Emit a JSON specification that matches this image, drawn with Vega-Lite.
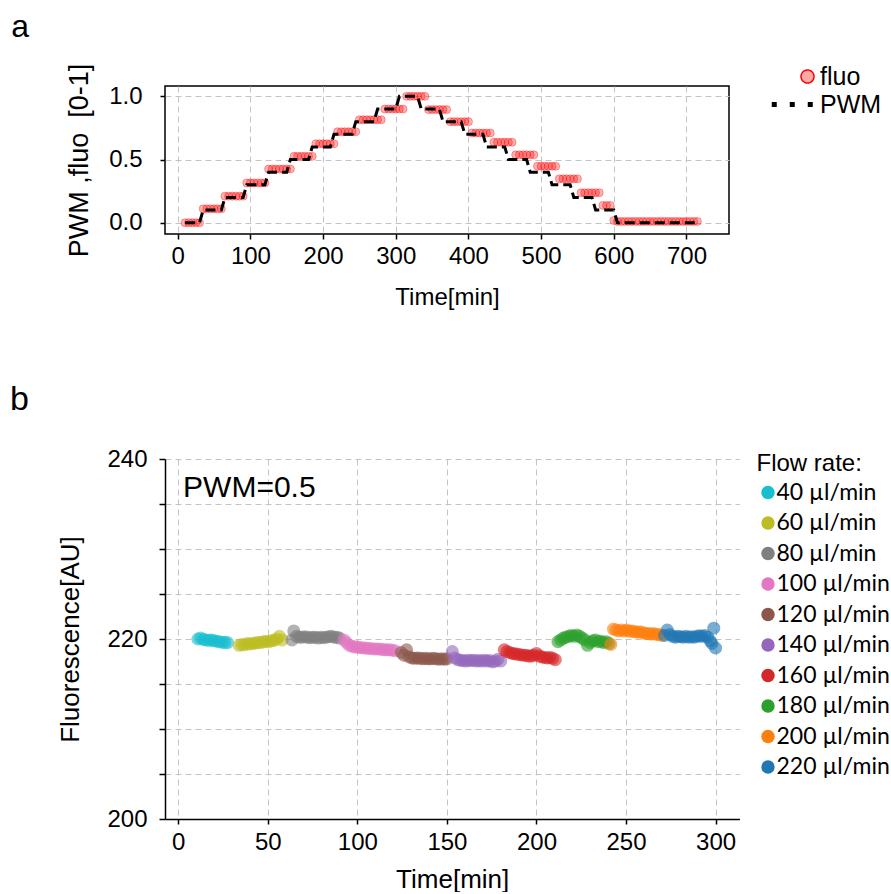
{
  "$schema": "https://vega.github.io/schema/vega-lite/v6.json",
  "background": "white",
  "padding": {"left": 10, "top": 9, "right": 0, "bottom": 0},
  "spacing": 73,
  "resolve": {"scale": {"color": "independent", "shape": "independent", "fill": "independent", "stroke": "independent", "strokeDash": "independent", "strokeWidth": "independent"}, "legend": {"color": "independent", "shape": "independent", "fill": "independent", "stroke": "independent", "strokeDash": "independent", "strokeWidth": "independent"}},
  "config": {
    "view": {"stroke": null},
    "font": "Liberation Sans",
    "axis": {
      "labelFont": "Liberation Sans", "titleFont": "Liberation Sans", "titleFontWeight": "normal",
      "labelColor": "black", "titleColor": "black", "tickColor": "black", "domainColor": "black",
      "tickSize": 5, "tickWidth": 1.5, "domainWidth": 1.5, "labelPadding": 5,
      "gridColor": "#c4c4c4", "gridDash": [6, 4], "gridWidth": 1,
      "labelFlush": false, "labelOverlap": false
    },
    "title": {"font": "Liberation Sans", "fontWeight": "normal", "anchor": "start", "frame": "group", "color": "black"}
  },
  "vconcat": [
    {
      "width": 564, "height": 148,
      "view": {"stroke": "black", "strokeWidth": 1.5},
      "title": {"text": "a", "fontSize": 32, "dx": -153.7, "offset": -5.5, "baseline": "alphabetic"},
      "data": {"values": [
        {"t":10,"f":0,"p":0},{"t":15,"f":0,"p":0},{"t":20,"f":0,"p":0},{"t":25,"f":0,"p":0},{"t":30,"f":0,"p":0},
        {"t":35,"f":0.11,"p":0.1},{"t":40,"f":0.11,"p":0.1},{"t":45,"f":0.11,"p":0.1},{"t":50,"f":0.11,"p":0.1},{"t":55,"f":0.11,"p":0.1},{"t":60,"f":0.11,"p":0.1},
        {"t":65,"f":0.21,"p":0.2},{"t":70,"f":0.21,"p":0.2},{"t":75,"f":0.21,"p":0.2},{"t":80,"f":0.21,"p":0.2},{"t":85,"f":0.21,"p":0.2},{"t":90,"f":0.21,"p":0.2},
        {"t":95,"f":0.315,"p":0.3},{"t":100,"f":0.315,"p":0.3},{"t":105,"f":0.315,"p":0.3},{"t":110,"f":0.315,"p":0.3},{"t":115,"f":0.315,"p":0.3},{"t":120,"f":0.315,"p":0.3},
        {"t":125,"f":0.425,"p":0.4},{"t":130,"f":0.425,"p":0.4},{"t":135,"f":0.425,"p":0.4},{"t":140,"f":0.425,"p":0.4},{"t":145,"f":0.425,"p":0.4},{"t":150,"f":0.425,"p":0.4},
        {"t":155,"f":0.425,"p":0.5},{"t":160,"f":0.525,"p":0.5},{"t":165,"f":0.525,"p":0.5},{"t":170,"f":0.525,"p":0.5},{"t":175,"f":0.525,"p":0.5},{"t":180,"f":0.525,"p":0.5},
        {"t":185,"f":0.525,"p":0.6},{"t":190,"f":0.625,"p":0.6},{"t":195,"f":0.625,"p":0.6},{"t":200,"f":0.625,"p":0.6},{"t":205,"f":0.625,"p":0.6},{"t":210,"f":0.625,"p":0.6},
        {"t":215,"f":0.625,"p":0.7},{"t":220,"f":0.72,"p":0.7},{"t":225,"f":0.72,"p":0.7},{"t":230,"f":0.72,"p":0.7},{"t":235,"f":0.72,"p":0.7},{"t":240,"f":0.72,"p":0.7},
        {"t":245,"f":0.72,"p":0.8},{"t":250,"f":0.815,"p":0.8},{"t":255,"f":0.815,"p":0.8},{"t":260,"f":0.815,"p":0.8},{"t":265,"f":0.815,"p":0.8},{"t":270,"f":0.815,"p":0.8},
        {"t":275,"f":0.815,"p":0.9},{"t":280,"f":0.815,"p":0.9},{"t":285,"f":0.9,"p":0.9},{"t":290,"f":0.9,"p":0.9},{"t":295,"f":0.9,"p":0.9},{"t":300,"f":0.9,"p":0.9},
        {"t":305,"f":0.9,"p":1.0},{"t":310,"f":0.9,"p":1.0},{"t":315,"f":1.0,"p":1.0},{"t":320,"f":1.0,"p":1.0},{"t":325,"f":1.0,"p":1.0},{"t":330,"f":1.0,"p":1.0},
        {"t":335,"f":1.0,"p":0.9},{"t":340,"f":1.0,"p":0.9},{"t":345,"f":0.895,"p":0.9},{"t":350,"f":0.895,"p":0.9},{"t":355,"f":0.895,"p":0.9},{"t":360,"f":0.895,"p":0.9},
        {"t":365,"f":0.895,"p":0.8},{"t":370,"f":0.895,"p":0.8},{"t":375,"f":0.8,"p":0.8},{"t":380,"f":0.8,"p":0.8},{"t":385,"f":0.8,"p":0.8},{"t":390,"f":0.8,"p":0.8},
        {"t":395,"f":0.8,"p":0.7},{"t":400,"f":0.8,"p":0.7},{"t":405,"f":0.71,"p":0.7},{"t":410,"f":0.71,"p":0.7},{"t":415,"f":0.71,"p":0.7},{"t":420,"f":0.71,"p":0.7},
        {"t":425,"f":0.71,"p":0.6},{"t":430,"f":0.71,"p":0.6},{"t":435,"f":0.637,"p":0.6},{"t":440,"f":0.637,"p":0.6},{"t":445,"f":0.637,"p":0.6},{"t":450,"f":0.637,"p":0.6},
        {"t":455,"f":0.637,"p":0.5},{"t":460,"f":0.637,"p":0.5},{"t":465,"f":0.537,"p":0.5},{"t":470,"f":0.537,"p":0.5},{"t":475,"f":0.537,"p":0.5},{"t":480,"f":0.537,"p":0.5},
        {"t":485,"f":0.537,"p":0.4},{"t":490,"f":0.537,"p":0.4},{"t":495,"f":0.447,"p":0.4},{"t":500,"f":0.447,"p":0.4},{"t":505,"f":0.447,"p":0.4},{"t":510,"f":0.447,"p":0.4},
        {"t":515,"f":0.447,"p":0.3},{"t":520,"f":0.447,"p":0.3},{"t":525,"f":0.347,"p":0.3},{"t":530,"f":0.347,"p":0.3},{"t":535,"f":0.347,"p":0.3},{"t":540,"f":0.347,"p":0.3},
        {"t":545,"f":0.347,"p":0.2},{"t":550,"f":0.347,"p":0.2},{"t":555,"f":0.237,"p":0.2},{"t":560,"f":0.237,"p":0.2},{"t":565,"f":0.237,"p":0.2},{"t":570,"f":0.237,"p":0.2},
        {"t":575,"f":0.237,"p":0.1},{"t":580,"f":0.237,"p":0.1},{"t":585,"f":0.137,"p":0.1},{"t":590,"f":0.137,"p":0.1},{"t":595,"f":0.137,"p":0.1},{"t":600,"f":0.018,"p":0.1},
        {"t":605,"f":0.01,"p":0},{"t":610,"f":0.01,"p":0},{"t":615,"f":0.01,"p":0},{"t":620,"f":0.01,"p":0},{"t":625,"f":0.01,"p":0},{"t":630,"f":0.01,"p":0},
        {"t":635,"f":0.01,"p":0},{"t":640,"f":0.01,"p":0},{"t":645,"f":0.01,"p":0},{"t":650,"f":0.01,"p":0},{"t":655,"f":0.01,"p":0},{"t":660,"f":0.01,"p":0},
        {"t":665,"f":0.01,"p":0},{"t":670,"f":0.01,"p":0},{"t":675,"f":0.01,"p":0},{"t":680,"f":0.01,"p":0},{"t":685,"f":0.01,"p":0},{"t":690,"f":0.01,"p":0},
        {"t":695,"f":0.01,"p":0},{"t":700,"f":0.01,"p":0},{"t":705,"f":0.01,"p":0},{"t":710,"f":0.01,"p":0},{"t":715,"f":0.01,"p":0}
      ]},
      "encoding": {
        "x": {"field": "t", "type": "quantitative",
          "scale": {"domain": [-17.5, 758.5], "nice": false, "zero": false},
          "axis": {"values": [0,100,200,300,400,500,600,700], "title": "Time[min]", "labelFontSize": 24, "titleFontSize": 24, "titlePadding": 17, "domain": false, "grid": true}}
      },
      "layer": [
        {
          "mark": {"type": "point", "filled": true, "fill": "#ff0000", "fillOpacity": 0.3, "stroke": "#ff0000", "strokeOpacity": 0.35, "strokeWidth": 1, "size": 64},
          "encoding": {
            "y": {"field": "f", "type": "quantitative",
              "scale": {"domain": [-0.0895, 1.082], "nice": false, "zero": false},
              "axis": {"values": [0, 0.5, 1], "format": ".1f", "title": "PWM ,fluo \u00a0[0-1]", "labelFontSize": 24, "titleFontSize": 27, "titlePadding": 15, "labelPadding": 18, "domain": false, "grid": true}}
          }
        },
        {
          "mark": {"type": "line", "color": "black", "strokeWidth": 3, "strokeDash": [10, 5]},
          "encoding": {"y": {"field": "p", "type": "quantitative"}}
        },
        {
          "data": {"values": []},
          "mark": {"type": "point"},
          "encoding": {
            "shape": {"datum": "fluo",
              "scale": {"domain": ["fluo", "PWM"], "range": ["circle", "M-5.5,0L1.4,0"]},
              "legend": {"title": null, "orient": "none", "legendX": 630, "legendY": -22, "padding": 0, "labelFont": "Liberation Sans", "labelFontSize": 25, "labelColor": "black", "labelOffset": 0, "symbolSize": 169, "rowPadding": 2, "symbolOpacity": 1}},
            "fill": {"datum": "fluo",
              "scale": {"domain": ["fluo", "PWM"], "range": ["#ffa8a8", "transparent"]},
              "legend": {"title": null, "orient": "none", "legendX": 630, "legendY": -22, "padding": 0, "labelFont": "Liberation Sans", "labelFontSize": 25, "labelColor": "black", "labelOffset": 0, "symbolSize": 169, "rowPadding": 2, "symbolOpacity": 1}},
            "stroke": {"datum": "fluo",
              "scale": {"domain": ["fluo", "PWM"], "range": ["#ff0000", "#000000"]},
              "legend": {"title": null, "orient": "none", "legendX": 630, "legendY": -22, "padding": 0, "labelFont": "Liberation Sans", "labelFontSize": 25, "labelColor": "black", "labelOffset": 0, "symbolSize": 169, "rowPadding": 2, "symbolOpacity": 1}},
            "strokeDash": {"datum": "fluo",
              "scale": {"domain": ["fluo", "PWM"], "range": [[1, 0], [5, 13]]},
              "legend": {"title": null, "orient": "none", "legendX": 630, "legendY": -22, "padding": 0, "labelFont": "Liberation Sans", "labelFontSize": 25, "labelColor": "black", "labelOffset": 0, "symbolSize": 169, "rowPadding": 2, "symbolOpacity": 1}},
            "strokeWidth": {"datum": "fluo", "type": "ordinal",
              "scale": {"type": "ordinal", "domain": ["fluo", "PWM"], "range": [1.5, 5]},
              "legend": {"title": null, "orient": "none", "legendX": 630, "legendY": -22, "padding": 0, "labelFont": "Liberation Sans", "labelFontSize": 25, "labelColor": "black", "labelOffset": 0, "symbolSize": 169, "rowPadding": 2, "symbolOpacity": 1}}
          }
        }
      ]
    },
    {
      "width": 574.4, "height": 360,
      "title": {"text": "b", "fontSize": 34, "dx": -154.9, "offset": 3, "baseline": "alphabetic"},
      "layer": [
        {
          "data": {"values": [
            {"t":11,"v":220.0,"q":40},{"t":12.5,"v":220.1,"q":40},{"t":14,"v":219.95,"q":40},{"t":15.5,"v":219.9,"q":40},{"t":17,"v":219.85,"q":40},{"t":18.5,"v":219.9,"q":40},{"t":20,"v":219.8,"q":40},{"t":21.5,"v":219.75,"q":40},{"t":23,"v":219.7,"q":40},{"t":24.5,"v":219.65,"q":40},{"t":26,"v":219.6,"q":40},{"t":27.5,"v":219.6,"q":40},
            {"t":34,"v":219.3,"q":60},{"t":35.5,"v":219.4,"q":60},{"t":37,"v":219.35,"q":60},{"t":38.5,"v":219.5,"q":60},{"t":40,"v":219.45,"q":60},{"t":41.5,"v":219.5,"q":60},{"t":43,"v":219.55,"q":60},{"t":44.5,"v":219.6,"q":60},{"t":46,"v":219.6,"q":60},{"t":47.5,"v":219.7,"q":60},{"t":49,"v":219.75,"q":60},{"t":50.5,"v":219.7,"q":60},{"t":52,"v":219.8,"q":60},{"t":53.5,"v":219.85,"q":60},{"t":55,"v":220.0,"q":60},{"t":56.5,"v":220.3,"q":60},{"t":58,"v":219.9,"q":60},
            {"t":63.5,"v":219.9,"q":80},{"t":64.5,"v":220.9,"q":80},{"t":66,"v":220.3,"q":80},{"t":67.5,"v":220.2,"q":80},{"t":69,"v":220.2,"q":80},{"t":70.5,"v":220.25,"q":80},{"t":72,"v":220.2,"q":80},{"t":73.5,"v":220.15,"q":80},{"t":75,"v":220.2,"q":80},{"t":76.5,"v":220.2,"q":80},{"t":78,"v":220.1,"q":80},{"t":79.5,"v":220.2,"q":80},{"t":81,"v":220.15,"q":80},{"t":82.5,"v":220.2,"q":80},{"t":84,"v":220.25,"q":80},{"t":85.5,"v":220.3,"q":80},{"t":87,"v":220.2,"q":80},{"t":88.5,"v":220.2,"q":80},{"t":90,"v":220.1,"q":80},
            {"t":92.5,"v":219.9,"q":100},{"t":94,"v":219.6,"q":100},{"t":95.5,"v":219.3,"q":100},{"t":97,"v":219.2,"q":100},{"t":98.5,"v":219.1,"q":100},{"t":100,"v":219.1,"q":100},{"t":101.5,"v":219.05,"q":100},{"t":103,"v":219.0,"q":100},{"t":104.5,"v":219.0,"q":100},{"t":106,"v":218.95,"q":100},{"t":107.5,"v":218.95,"q":100},{"t":109,"v":218.9,"q":100},{"t":110.5,"v":218.9,"q":100},{"t":112,"v":218.9,"q":100},{"t":113.5,"v":218.85,"q":100},{"t":115,"v":218.8,"q":100},{"t":116.5,"v":218.8,"q":100},{"t":118,"v":218.8,"q":100},{"t":119.5,"v":218.75,"q":100},{"t":121,"v":218.7,"q":100},
            {"t":124.5,"v":218.5,"q":120},{"t":126,"v":218.2,"q":120},{"t":127.5,"v":218.8,"q":120},{"t":129,"v":218.0,"q":120},{"t":130.5,"v":217.9,"q":120},{"t":132,"v":217.85,"q":120},{"t":133.5,"v":217.9,"q":120},{"t":135,"v":217.85,"q":120},{"t":136.5,"v":217.8,"q":120},{"t":138,"v":217.85,"q":120},{"t":139.5,"v":217.8,"q":120},{"t":141,"v":217.8,"q":120},{"t":142.5,"v":217.85,"q":120},{"t":144,"v":217.8,"q":120},{"t":145.5,"v":217.75,"q":120},{"t":147,"v":217.8,"q":120},{"t":148.5,"v":217.75,"q":120},{"t":150,"v":217.8,"q":120},
            {"t":153,"v":218.6,"q":140},{"t":154.5,"v":217.9,"q":140},{"t":156,"v":217.7,"q":140},{"t":157.5,"v":217.65,"q":140},{"t":159,"v":217.6,"q":140},{"t":160.5,"v":217.55,"q":140},{"t":162,"v":217.65,"q":140},{"t":163.5,"v":217.6,"q":140},{"t":165,"v":217.65,"q":140},{"t":166.5,"v":217.55,"q":140},{"t":168,"v":217.6,"q":140},{"t":169.5,"v":217.55,"q":140},{"t":171,"v":217.65,"q":140},{"t":172.5,"v":217.55,"q":140},{"t":174,"v":217.6,"q":140},{"t":175.5,"v":217.45,"q":140},{"t":177,"v":217.55,"q":140},{"t":178.5,"v":217.75,"q":140},{"t":180,"v":217.55,"q":140},
            {"t":182,"v":218.8,"q":160},{"t":183.5,"v":218.6,"q":160},{"t":185,"v":218.5,"q":160},{"t":186.5,"v":218.4,"q":160},{"t":188,"v":218.35,"q":160},{"t":189.5,"v":218.3,"q":160},{"t":191,"v":218.25,"q":160},{"t":192.5,"v":218.2,"q":160},{"t":194,"v":218.2,"q":160},{"t":195.5,"v":218.1,"q":160},{"t":197,"v":218.1,"q":160},{"t":198.5,"v":218.2,"q":160},{"t":200,"v":218.4,"q":160},{"t":201.5,"v":218.1,"q":160},{"t":203,"v":218.0,"q":160},{"t":204.5,"v":217.95,"q":160},{"t":206,"v":217.9,"q":160},{"t":207.5,"v":217.95,"q":160},{"t":209,"v":217.85,"q":160},{"t":210.5,"v":217.7,"q":160},
            {"t":212,"v":219.7,"q":180},{"t":213.5,"v":219.9,"q":180},{"t":215,"v":220.1,"q":180},{"t":216.5,"v":220.2,"q":180},{"t":218,"v":220.3,"q":180},{"t":219.5,"v":220.4,"q":180},{"t":221,"v":220.3,"q":180},{"t":222.5,"v":220.45,"q":180},{"t":224,"v":220.3,"q":180},{"t":225.5,"v":220.1,"q":180},{"t":227,"v":219.9,"q":180},{"t":228.5,"v":219.3,"q":180},{"t":230,"v":219.6,"q":180},{"t":231.5,"v":219.8,"q":180},{"t":233,"v":219.9,"q":180},{"t":234.5,"v":219.7,"q":180},{"t":236,"v":219.75,"q":180},{"t":237.5,"v":219.6,"q":180},{"t":239,"v":219.7,"q":180},{"t":240.5,"v":219.5,"q":180},
            {"t":241.5,"v":219.4,"q":200},{"t":243,"v":221.1,"q":200},{"t":244.5,"v":221.0,"q":200},{"t":246,"v":220.9,"q":200},{"t":247.5,"v":221.0,"q":200},{"t":249,"v":220.9,"q":200},{"t":250.5,"v":221.0,"q":200},{"t":252,"v":220.85,"q":200},{"t":253.5,"v":220.9,"q":200},{"t":255,"v":220.8,"q":200},{"t":256.5,"v":220.75,"q":200},{"t":258,"v":220.8,"q":200},{"t":259.5,"v":220.7,"q":200},{"t":261,"v":220.6,"q":200},{"t":262.5,"v":220.6,"q":200},{"t":264,"v":220.55,"q":200},{"t":265.5,"v":220.6,"q":200},{"t":267,"v":220.5,"q":200},{"t":268.5,"v":220.5,"q":200},{"t":270,"v":220.4,"q":200},
            {"t":271.5,"v":220.4,"q":220},{"t":273,"v":221.0,"q":220},{"t":274.5,"v":220.5,"q":220},{"t":276,"v":220.3,"q":220},{"t":277.5,"v":220.2,"q":220},{"t":279,"v":220.3,"q":220},{"t":280.5,"v":220.25,"q":220},{"t":282,"v":220.2,"q":220},{"t":283.5,"v":220.3,"q":220},{"t":285,"v":220.2,"q":220},{"t":286.5,"v":220.25,"q":220},{"t":288,"v":220.2,"q":220},{"t":289.5,"v":220.3,"q":220},{"t":291,"v":220.35,"q":220},{"t":292.5,"v":220.3,"q":220},{"t":294,"v":220.4,"q":220},{"t":295.5,"v":220.2,"q":220},{"t":297,"v":219.8,"q":220},{"t":298,"v":219.5,"q":220},{"t":299,"v":221.2,"q":220},{"t":300,"v":219.0,"q":220}
          ]},
          "mark": {"type": "circle", "size": 170, "opacity": 0.6},
          "encoding": {
            "x": {"field": "t", "type": "quantitative",
              "scale": {"domain": [-7.4, 313.3], "nice": false, "zero": false},
              "axis": {"values": [0,50,100,150,200,250,300], "title": "Time[min]", "labelFontSize": 24, "titleFontSize": 26, "titlePadding": 12, "labelPadding": 6, "grid": true}},
            "y": {"field": "v", "type": "quantitative",
              "scale": {"domain": [200, 240], "nice": false, "zero": false},
              "axis": {"values": [200,205,210,215,220,225,230,235,240], "labelExpr": "datum.value % 20 === 0 ? datum.label : ''", "title": "Fluorescence[AU]", "labelFontSize": 24, "titleFontSize": 26, "titlePadding": 23, "labelPadding": 12, "tickSize": 6, "grid": true}},
            "color": {"field": "q", "type": "ordinal",
              "scale": {"domain": [40,60,80,100,120,140,160,180,200,220], "range": ["#17becf","#bcbd22","#7f7f7f","#e377c2","#8c564b","#9467bd","#d62728","#2ca02c","#ff7f0e","#1f77b4"]},
              "legend": {"title": "Flow rate:", "orient": "none", "legendX": 591.5, "legendY": -7, "padding": 0,
                "titleFont": "Liberation Sans", "titleFontSize": 24, "titleFontWeight": "normal", "titleColor": "black", "titlePadding": 5,
                "labelFont": "Lato", "labelFontSize": 23, "labelColor": "black", "labelOffset": -3,
                "labelExpr": "datum.label + ' µl/min'",
                "symbolType": "circle", "symbolSize": 180, "symbolOpacity": 1, "rowPadding": 6.5}}
          }
        },
        {
          "data": {"values": [{"t": 2.7, "v": 236.8, "label": "PWM=0.5"}]},
          "mark": {"type": "text", "align": "left", "baseline": "middle", "font": "Liberation Sans", "fontSize": 30, "color": "black"},
          "encoding": {
            "x": {"field": "t", "type": "quantitative"},
            "y": {"field": "v", "type": "quantitative"},
            "text": {"field": "label"}
          }
        }
      ]
    }
  ]
}
